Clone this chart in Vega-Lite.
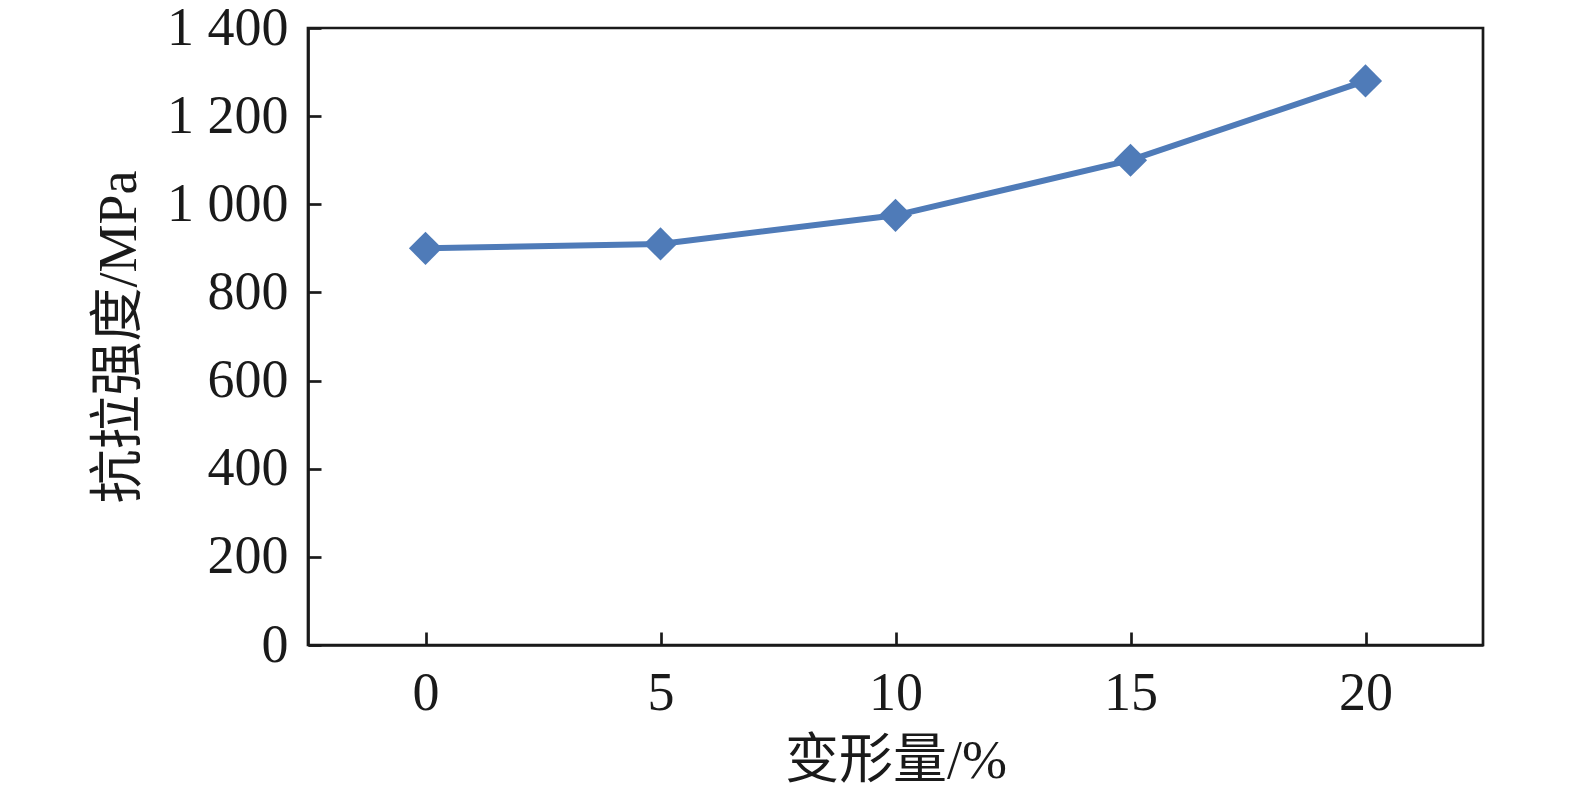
{
  "$schema": "https://vega.github.io/schema/vega-lite/v6.json",
  "width": 1175,
  "height": 617,
  "autosize": {"type": "none"},
  "padding": {"left": 308, "top": 28, "right": 92, "bottom": 145},
  "background": "white",
  "data": {"values": [
    {"x": "0", "y": 900},
    {"x": "5", "y": 910},
    {"x": "10", "y": 975},
    {"x": "15", "y": 1100},
    {"x": "20", "y": 1280}
  ]},
  "config": {
    "view": {"stroke": "#1a1a1a", "strokeWidth": 2.7},
    "font": "Liberation Serif, Noto Sans CJK SC",
    "axis": {
      "domainColor": "#1a1a1a", "domainWidth": 2.7,
      "tickColor": "#1a1a1a", "tickWidth": 2.7, "tickSize": -13,
      "labelColor": "#1a1a1a", "titleColor": "#1a1a1a",
      "labelFont": "Liberation Serif", "labelFontSize": 54,
      "titleFont": "Liberation Serif, Noto Sans CJK SC", "titleFontSize": 54, "titleFontWeight": "normal",
      "grid": false
    }
  },
  "layer": [
    {
      "mark": {"type": "line", "color": "#4F7BB8", "strokeWidth": 6},
      "encoding": {
        "x": {"field": "x", "type": "ordinal", "sort": null,
              "scale": {"type": "point", "padding": 0.5},
              "axis": {"title": "变形量/%", "labelAngle": 0, "labelPadding": 34, "titlePadding": 14}},
        "y": {"field": "y", "type": "quantitative",
              "scale": {"domain": [0, 1400], "nice": false},
              "axis": {"title": "抗拉强度/MPa", "values": [0, 200, 400, 600, 800, 1000, 1200, 1400],
                       "labelExpr": "datum.value >= 1000 ? replace(format(datum.value, ','), ',', ' ') : datum.label",
                       "labelPadding": 33, "titlePadding": 20}}
      }
    },
    {
      "mark": {"type": "point", "shape": "diamond", "filled": true, "color": "#4F7BB8", "size": 1100, "opacity": 1},
      "encoding": {
        "x": {"field": "x", "type": "ordinal", "sort": null},
        "y": {"field": "y", "type": "quantitative"}
      }
    }
  ]
}
